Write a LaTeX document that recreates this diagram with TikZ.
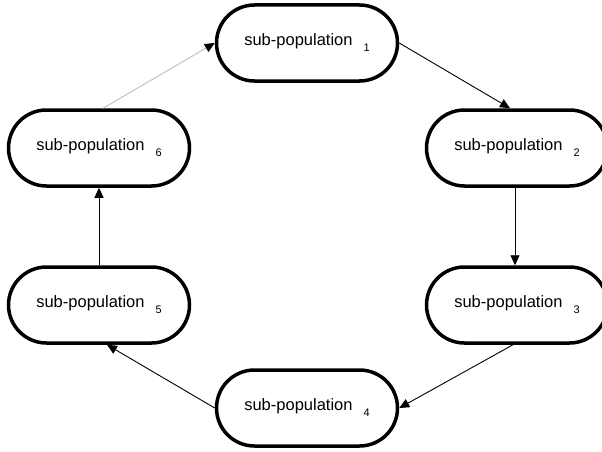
\documentclass[tikz,border=0pt]{standalone}
\usepackage{fontspec}
\setmainfont{Liberation Sans}
\usetikzlibrary{arrows.meta}

\newcommand{\subpop}[1]{sub-population\hspace{11pt}\raisebox{-6pt}{\fontsize{11}{13}\selectfont #1}}

\tikzset{
  popbox/.style={draw, line width=3.5pt, rounded corners=38pt, fill=white,
    minimum width=181pt, minimum height=76pt, inner sep=0pt,
    font=\fontsize{16.5}{20}\selectfont},
  flow/.style={line width=0.9pt, -{Triangle[length=10pt,width=9pt]}}
}

\begin{document}
\begin{tikzpicture}[x=1pt, y=-1pt]
\useasboundingbox (0,0) rectangle (602,452);

	\node [popbox] (pop1) at (307,43) {\subpop{1}};
	\node [popbox] (pop2) at (517,148) {\subpop{2}};
	\node [popbox] (pop3) at (517,305) {\subpop{3}};
	\node [popbox] (pop4) at (307,408) {\subpop{4}};
	\node [popbox] (pop5) at (99,305) {\subpop{5}};
	\node [popbox] (pop6) at (99,148) {\subpop{6}};

	\draw [flow] (pop1.east) -- ([xshift=-7pt]pop2.north);
	\draw [flow] ([xshift=-2pt]pop2.south) -- ([xshift=-2pt]pop3.north);
	\draw [flow] ([xshift=-4pt]pop3.south) -- (pop4.east);
	\draw [flow] (pop4.west) -- ([xshift=8pt]pop5.south);
	\draw [flow] (pop5.north) -- (pop6.south);

	\draw [flow, draw=black!25, -{Triangle[length=10pt,width=9pt,color=black]}] ([xshift=4pt]pop6.north) -- (pop1.west);
\end{tikzpicture}
\end{document}
